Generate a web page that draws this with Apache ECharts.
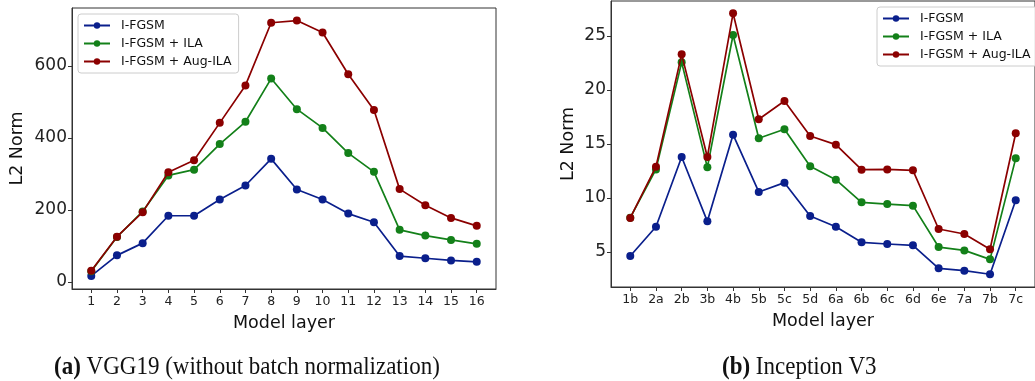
<!DOCTYPE html>
<html>
<head>
<meta charset="utf-8">
<script src="https://cdn.jsdelivr.net/npm/echarts@6/dist/echarts.min.js"></script>
<style>
  html, body { margin: 0; padding: 0; background: #fff; }
  #chart { width: 1035px; height: 381px; }
</style>
</head>
<body>
<div id="chart"></div>
<script>
// VGG19 (left)
const vggLayers = ['1', '2', '3', '4', '5', '6', '7', '8', '9', '10', '11', '12', '13', '14', '15', '16'];
const vggFgsm = [17, 74, 108, 184, 184, 229, 268, 342, 257, 229, 190, 166, 72, 66, 60, 56];
const vggIla = [30, 125, 196, 296, 312, 383, 445, 565, 480, 428, 358, 306, 145, 129, 117, 106];
const vggAugIla = [31, 126, 194, 305, 338, 442, 546, 720, 726, 693, 577, 478, 258, 213, 178, 156];
const vggYTicks = [0, 200, 400, 600];

// Inception V3 (right)
const incLayers = ['1b', '2a', '2b', '3b', '4b', '5b', '5c', '5d', '6a', '6b', '6c', '6d', '6e', '7a', '7b', '7c'];
const incFgsm = [4.63, 7.34, 13.8, 7.84, 15.86, 10.56, 11.42, 8.33, 7.34, 5.9, 5.74, 5.62, 3.49, 3.27, 2.94, 9.79];
const incIla = [8.18, 12.65, 22.56, 12.84, 25.09, 15.53, 16.36, 12.93, 11.7, 9.6, 9.44, 9.29, 5.46, 5.15, 4.32, 13.67];
const incAugIla = [8.15, 12.9, 23.3, 13.8, 27.1, 17.29, 18.98, 15.74, 14.94, 12.62, 12.65, 12.56, 7.13, 6.67, 5.25, 15.99];
const incYTicks = [5, 10, 15, 20, 25];

const seriesNames = ['I-FGSM', 'I-FGSM + ILA', 'I-FGSM + Aug-ILA'];
const colors = ['#0A1F8C', '#138019', '#8B0000'];
const font = 'DejaVu Sans';
const serif = 'Liberation Serif';
const frameColor = '#333';

const chart = echarts.init(document.getElementById('chart'));

// x positions 1..16, labels come from the layer arrays
const pos = vggLayers.map((_, i) => i + 1);

function makeX(gridIndex, labels) {
  return {
    type: 'value',
    gridIndex: gridIndex,
    min: 0.25,
    max: 16.75,
    name: 'Model layer',
    nameLocation: 'middle',
    nameGap: 25,
    nameTextStyle: { fontFamily: font, fontSize: 17.5, color: '#111' },
    axisLine: { show: true, onZero: false, lineStyle: { color: frameColor, width: 1 } },
    axisTick: { show: true, length: 4, customValues: pos, lineStyle: { color: frameColor } },
    axisLabel: {
      customValues: pos,
      fontFamily: font, fontSize: 12.5, color: '#222', margin: 6,
      formatter: v => labels[Math.round(v) - 1]
    },
    splitLine: { show: false }
  };
}

function makeY(gridIndex, min, max, ticks, nameGap) {
  return {
    type: 'value',
    gridIndex: gridIndex,
    min: min,
    max: max,
    name: 'L2 Norm',
    nameLocation: 'middle',
    nameGap: nameGap,
    nameTextStyle: { fontFamily: font, fontSize: 17.5, color: '#111' },
    axisLine: { show: true, onZero: false, lineStyle: { color: frameColor, width: 1 } },
    axisTick: { show: true, length: 4, customValues: ticks, lineStyle: { color: frameColor } },
    axisLabel: { customValues: ticks, fontFamily: font, fontSize: 17, color: '#222', margin: 5 },
    splitLine: { show: false }
  };
}

function makeSeries(gridIndex, data, k) {
  return {
    name: seriesNames[k],
    type: 'line',
    xAxisIndex: gridIndex,
    yAxisIndex: gridIndex,
    data: data.map((v, i) => [pos[i], v]),
    symbol: 'circle',
    symbolSize: 8,
    itemStyle: { color: colors[k] },
    lineStyle: { color: colors[k], width: 1.7 },
    animation: false,
    z: 2 + k
  };
}

function makeLegend(left, top) {
  return {
    data: seriesNames,
    orient: 'vertical',
    left: left,
    top: top,
    itemWidth: 26,
    itemHeight: 8,
    itemGap: 5,
    padding: [5, 7, 5, 5],
    borderColor: '#ccc',
    borderWidth: 1,
    borderRadius: 3,
    backgroundColor: 'rgba(255,255,255,0.85)',
    textStyle: { fontFamily: font, fontSize: 12.5, color: '#111', padding: [0, 0, 0, 6] },
    selectedMode: false
  };
}

function caption(x, tag, rest) {
  return {
    type: 'text',
    x: x,
    y: 367,
    scaleY: 1.1,
    originY: 0,
    style: {
      text: '{b|' + tag + '} ' + rest,
      fontFamily: serif,
      fontSize: 23,
      fill: '#111',
      textVerticalAlign: 'middle',
      rich: { b: { fontFamily: serif, fontSize: 23, fontWeight: 'bold', fill: '#111' } }
    }
  };
}

const option = {
  animation: false,
  backgroundColor: '#fff',
  graphic: [
    caption(54, '(a)', 'VGG19 (without batch normalization)'),
    caption(722, '(b)', 'Inception V3')
  ],
  legend: [makeLegend(78, 14), makeLegend(877, 7)],
  grid: [
    { left: 72, top: 8, width: 424, height: 281, show: true, borderColor: frameColor, borderWidth: 1 },
    { left: 611, top: 1, width: 434, height: 286, show: true, borderColor: frameColor, borderWidth: 1 }
  ],
  xAxis: [makeX(0, vggLayers), makeX(1, incLayers)],
  yAxis: [
    makeY(0, -19.4, 761, vggYTicks, 46),
    makeY(1, 1.76, 28.24, incYTicks, 34)
  ],
  series: [
    makeSeries(0, vggFgsm, 0),
    makeSeries(0, vggIla, 1),
    makeSeries(0, vggAugIla, 2),
    makeSeries(1, incFgsm, 0),
    makeSeries(1, incIla, 1),
    makeSeries(1, incAugIla, 2)
  ]
};

chart.setOption(option);
</script>
</body>
</html>
